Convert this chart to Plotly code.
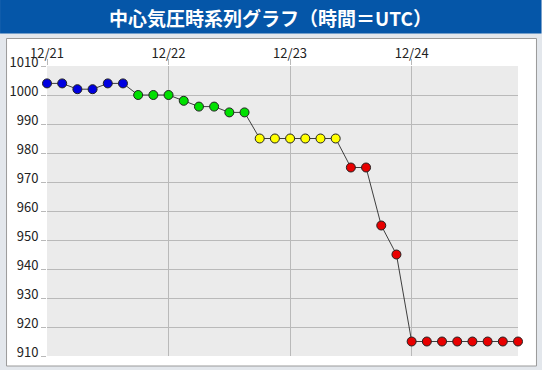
import plotly.graph_objects as go

# ---- data ----
times = [
    "2024-12-21 00:00", "2024-12-21 03:00", "2024-12-21 06:00", "2024-12-21 09:00",
    "2024-12-21 12:00", "2024-12-21 15:00", "2024-12-21 18:00", "2024-12-21 21:00",
    "2024-12-22 00:00", "2024-12-22 03:00", "2024-12-22 06:00", "2024-12-22 09:00",
    "2024-12-22 12:00", "2024-12-22 15:00", "2024-12-22 18:00", "2024-12-22 21:00",
    "2024-12-23 00:00", "2024-12-23 03:00", "2024-12-23 06:00", "2024-12-23 09:00",
    "2024-12-23 12:00", "2024-12-23 15:00", "2024-12-23 18:00", "2024-12-23 21:00",
    "2024-12-24 00:00", "2024-12-24 03:00", "2024-12-24 06:00", "2024-12-24 09:00",
    "2024-12-24 12:00", "2024-12-24 15:00", "2024-12-24 18:00", "2024-12-24 21:00",
]
pressure = [
    1004, 1004, 1002, 1002, 1004, 1004,
    1000, 1000, 1000, 998, 996, 996, 994, 994,
    985, 985, 985, 985, 985, 985,
    975, 975, 955, 945, 915, 915, 915, 915, 915, 915, 915, 915,
]
category = (
    ["blue"] * 6 + ["green"] * 8 + ["yellow"] * 6 + ["red"] * 12
)
palette = {"blue": "#0000e0", "green": "#00e000", "yellow": "#ffff00", "red": "#e80000"}
colors = [palette[c] for c in category]

title_text = "中心気圧時系列グラフ（時間＝UTC）"
x_range = ["2024-12-21 00:00", "2024-12-24 21:00"]
y_range = [910, 1010]

# ---- layout geometry (pixels) ----
W, H = 542, 370
L, R, T, B = 47, 518.5, 66, 356   # plot area edges in pixels

def px(x):
    return (x - L) / (R - L)

def py(y):
    return (B - y) / (B - T)

FONT = "Noto Sans CJK JP"

fig = go.Figure()
fig.add_trace(go.Scatter(
    x=times, y=pressure, mode="lines+markers",
    line=dict(color="#111111", width=0.8),
    marker=dict(size=9, color=colors, line=dict(color="#222222", width=1)),
    cliponaxis=False, hoverinfo="x+y", showlegend=False,
))

shapes = [
    # title bar
    dict(type="rect", xref="paper", yref="paper", x0=px(0), x1=px(W), y0=py(33.5), y1=py(0),
         fillcolor="#0556a8", line=dict(width=0), layer="below"),
    # white panel
    dict(type="rect", xref="paper", yref="paper", x0=px(6.5), x1=px(537), y0=py(366), y1=py(38.5),
         fillcolor="#ffffff", line=dict(color="#9a9a9a", width=1), layer="below"),
    # plot area background
    dict(type="rect", xref="paper", yref="paper", x0=0, x1=1, y0=0, y1=1,
         fillcolor="#ebebeb", line=dict(width=0), layer="below"),
]

fig.update_layout(
    width=W, height=H,
    margin=dict(l=L, r=W - R, t=T, b=H - B, pad=0, autoexpand=False),
    paper_bgcolor="#e3e7ec",
    plot_bgcolor="rgba(0,0,0,0)",
    font=dict(family=FONT, size=13, color="#222222"),
    shapes=shapes,
    annotations=[dict(
        text="<b>" + title_text + "</b>", xref="paper", yref="paper",
        x=px(271), y=py(17), xanchor="center", yanchor="middle", showarrow=False,
        font=dict(family=FONT, size=19, color="#ffffff"),
    )],
    xaxis=dict(
        type="date", range=x_range, side="top", dtick=86400000, tick0="2024-12-21",
        tickformat="%m/%d", showgrid=True, gridcolor="#b9b9b9", gridwidth=1,
        ticks="outside", ticklen=6, tickcolor="#b9b9b9", zeroline=False,
        showline=False, fixedrange=True, automargin=False, ticklabelstandoff=-4,
    ),
    yaxis=dict(
        range=y_range, dtick=10, tick0=910, showgrid=True, gridcolor="#b9b9b9",
        gridwidth=1, ticks="outside", ticklen=5, tickcolor="#b9b9b9",
        zeroline=False, showline=False, fixedrange=True, automargin=False,
        ticklabelshift=-4,
    ),
)

fig.write_html(
    "out.html",
    config={"displayModeBar": False},
    post_script="document.body.style.margin='0';document.body.style.overflow='hidden';",
)
